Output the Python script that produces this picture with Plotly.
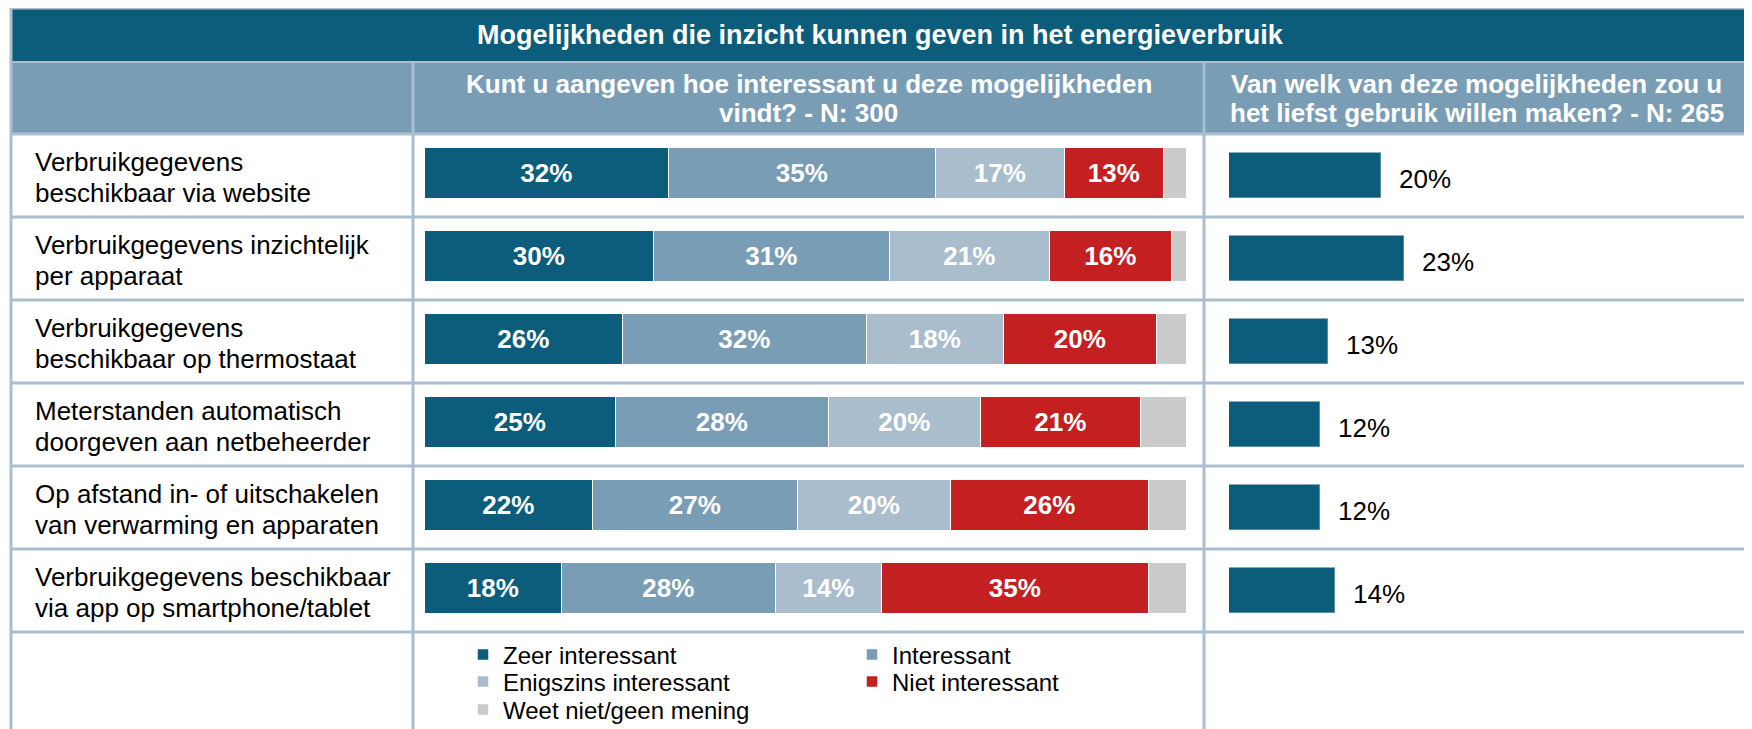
import plotly.graph_objects as go

# ---------------- data ----------------
categories = [
    "Verbruikgegevens<br>beschikbaar via website",
    "Verbruikgegevens inzichtelijk<br>per apparaat",
    "Verbruikgegevens<br>beschikbaar op thermostaat",
    "Meterstanden automatisch<br>doorgeven aan netbeheerder",
    "Op afstand in- of uitschakelen<br>van verwarming en apparaten",
    "Verbruikgegevens beschikbaar<br>via app op smartphone/tablet",
]
zeer_interessant = [32, 30, 26, 25, 22, 18]
interessant = [35, 31, 32, 28, 27, 28]
enigszins_interessant = [17, 21, 18, 20, 20, 14]
niet_interessant = [13, 16, 20, 21, 26, 35]
weet_niet = [3, 2, 4, 6, 5, 5]
liefst_gebruik = [20, 23, 13, 12, 12, 14]

series_names = ["Zeer interessant", "Interessant", "Enigszins interessant",
                "Niet interessant", "Weet niet/geen mening"]

title_text = "Mogelijkheden die inzicht kunnen geven in het energieverbruik"
sub_mid = ["Kunt u aangeven hoe interessant u deze mogelijkheden", "vindt? - N: 300"]
sub_right = ["Van welk van deze mogelijkheden zou u", "het liefst gebruik willen maken? - N: 265"]

# ---------------- style / layout (screen pixel positions) ----------------
W, H = 1752, 729
OFF = 8            # page body margin
FONT = "Liberation Sans, Arial, sans-serif"
FS = 26
LEG_FS = 24
C_DARK = "#0B5D7B"
C_MID = "#7A9DB6"
C_LIGHT = "#A9BDCC"
C_RED = "#C42021"
C_GREY = "#CBCBCB"
C_LINE = "#A9BFD0"
colors = [C_DARK, C_MID, C_LIGHT, C_RED, C_GREY]

LEFT, RIGHT = 11, 1749
TOP_BORDER = 8
TITLE_BOTTOM = 62
TOP = 134          # top of first data row
ROW_H = 83
COL1, COL2 = 413, 1204
MID_X0, MID_X1 = 425, 1187
R_X0, R_X1 = 1229, 1740
R_PX_PER_PCT = 7.6
LEG_TEXT_X = [503, 892]
LEG_ROWS_Y = [655, 682, 710]

def X(p):
    return (p - OFF) / W

def Y(p):
    return 1 - (p - OFF) / H

n = len(categories)
idx = list(range(n))
c0 = TOP - OFF + 0.5 * ROW_H
v_top = (0 - c0) / ROW_H
v_bot = (H - c0) / ROW_H

fig = go.Figure()

values = [zeer_interessant, interessant, enigszins_interessant, niet_interessant, weet_niet]
legend_of = ["legend", "legend", "legend2", "legend2", "legend3"]
MID_W = 0.61
for name, vals, col, lg in zip(series_names, values, colors, legend_of):
    show_text = name != "Weet niet/geen mening"
    fig.add_trace(go.Bar(
        y=idx, x=vals, orientation="h", name=name,
        marker=dict(color=col, line=dict(color="white", width=1.5)),
        width=MID_W, offset=-MID_W / 2 - 2 / ROW_H,
        text=[f"{v}%" for v in vals] if show_text else None,
        textposition="inside" if show_text else "none",
        insidetextanchor="middle",
        textangle=0,
        textfont=dict(family=FONT, size=FS, color="white", weight="bold"),
        xaxis="x", yaxis="y", legend=lg, hoverinfo="skip",
    ))

R_W = 0.54
fig.add_trace(go.Bar(
    y=idx, x=liefst_gebruik, orientation="h", name="Liefst gebruik",
    marker=dict(color=C_DARK, line=dict(color="#6F98AE", width=0.8)),
    width=R_W, offset=-R_W / 2,
    showlegend=False, xaxis="x2", yaxis="y", hoverinfo="skip",
))

annotations = []
# value labels right column
for i, v in enumerate(liefst_gebruik):
    annotations.append(dict(xref="x2", yref="y", x=v, y=i, text=f"{v}%",
                            showarrow=False, xanchor="left", yanchor="middle", xshift=16, yshift=-3,
                            font=dict(family=FONT, size=FS, color="black")))
# row labels (two lines each)
for i, c in enumerate(categories):
    lines = c.split("<br>")
    for k, line in enumerate(lines):
        annotations.append(dict(xref="paper", yref="y", x=X(33), y=i, text=line,
                                showarrow=False, xanchor="left", yanchor="middle", align="left",
                                yshift=13.5 - 31 * k,
                                font=dict(family=FONT, size=FS, color="black")))
# title
annotations.append(dict(xref="paper", yref="paper", x=X((LEFT + RIGHT) / 2), y=Y(35),
                        text=f"<b>{title_text}</b>", showarrow=False,
                        xanchor="center", yanchor="middle",
                        font=dict(family=FONT, size=FS + 1, color="white")))
# sub headers
for k, line in enumerate(sub_mid):
    annotations.append(dict(xref="paper", yref="paper", x=X((COL1 + COL2) / 2), y=Y(84 + 29 * k),
                            text=f"<b>{line}</b>", showarrow=False,
                            xanchor="center", yanchor="middle",
                            font=dict(family=FONT, size=FS, color="white")))
for k, line in enumerate(sub_right):
    annotations.append(dict(xref="paper", yref="paper", x=X((COL2 + RIGHT) / 2), y=Y(84 + 29 * k),
                            text=f"<b>{line}</b>", showarrow=False,
                            xanchor="center", yanchor="middle",
                            font=dict(family=FONT, size=FS, color="white")))

shapes = []
# header bands
shapes.append(dict(type="rect", xref="paper", yref="paper", x0=X(LEFT), x1=X(RIGHT),
                   y0=Y(TOP_BORDER), y1=Y(TITLE_BOTTOM), fillcolor=C_DARK, line=dict(width=0),
                   layer="below"))
shapes.append(dict(type="rect", xref="paper", yref="paper", x0=X(LEFT), x1=X(RIGHT),
                   y0=Y(TITLE_BOTTOM), y1=Y(TOP), fillcolor=C_MID, line=dict(width=0),
                   layer="below"))
# horizontal lines
for k in range(n + 1):
    yy = TOP + k * ROW_H
    shapes.append(dict(type="line", xref="paper", yref="paper", x0=X(LEFT), x1=X(RIGHT),
                       y0=Y(yy), y1=Y(yy), line=dict(color=C_LINE, width=3), layer="below"))
shapes.append(dict(type="line", xref="paper", yref="paper", x0=X(LEFT), x1=X(RIGHT),
                   y0=Y(TITLE_BOTTOM), y1=Y(TITLE_BOTTOM), line=dict(color=C_LINE, width=2),
                   layer="below"))
shapes.append(dict(type="line", xref="paper", yref="paper", x0=X(LEFT), x1=X(RIGHT),
                   y0=Y(TOP_BORDER), y1=Y(TOP_BORDER), line=dict(color=C_LINE, width=3),
                   layer="below"))
# vertical lines
for xx, y_start in [(LEFT, TOP_BORDER), (RIGHT, TOP_BORDER), (COL1, TITLE_BOTTOM), (COL2, TITLE_BOTTOM)]:
    shapes.append(dict(type="line", xref="paper", yref="paper", x0=X(xx), x1=X(xx),
                       y0=Y(y_start), y1=Y(H + OFF + 2), line=dict(color=C_LINE, width=3),
                       layer="below"))

LEG_PITCH = LEG_TEXT_X[1] - LEG_TEXT_X[0]

def leg(row):
    return dict(x=X(LEG_TEXT_X[0] - 40), y=Y(LEG_ROWS_Y[row]), xanchor="left", yanchor="middle",
                orientation="h", traceorder="normal", bgcolor="rgba(0,0,0,0)",
                entrywidth=LEG_PITCH - 45, entrywidthmode="pixels",
                font=dict(family=FONT, size=LEG_FS, color="black"))

fig.update_layout(
    width=W, height=H,
    margin=dict(l=0, r=0, t=0, b=0),
    paper_bgcolor="white", plot_bgcolor="rgba(0,0,0,0)",
    barmode="stack", bargap=0,
    font=dict(family=FONT, size=20, color="black"),
    xaxis=dict(domain=[X(MID_X0), X(MID_X1)], range=[0, 100], visible=False, fixedrange=True),
    xaxis2=dict(domain=[X(R_X0), X(R_X1)], range=[0, (R_X1 - R_X0) / R_PX_PER_PCT],
                visible=False, fixedrange=True, anchor="y"),
    yaxis=dict(domain=[0, 1], range=[v_bot, v_top], visible=False, fixedrange=True),
    legend=leg(0),
    legend2=leg(1),
    legend3=leg(2),
    annotations=annotations,
    shapes=shapes,
    showlegend=True,
)

fig.write_html("out.html")
